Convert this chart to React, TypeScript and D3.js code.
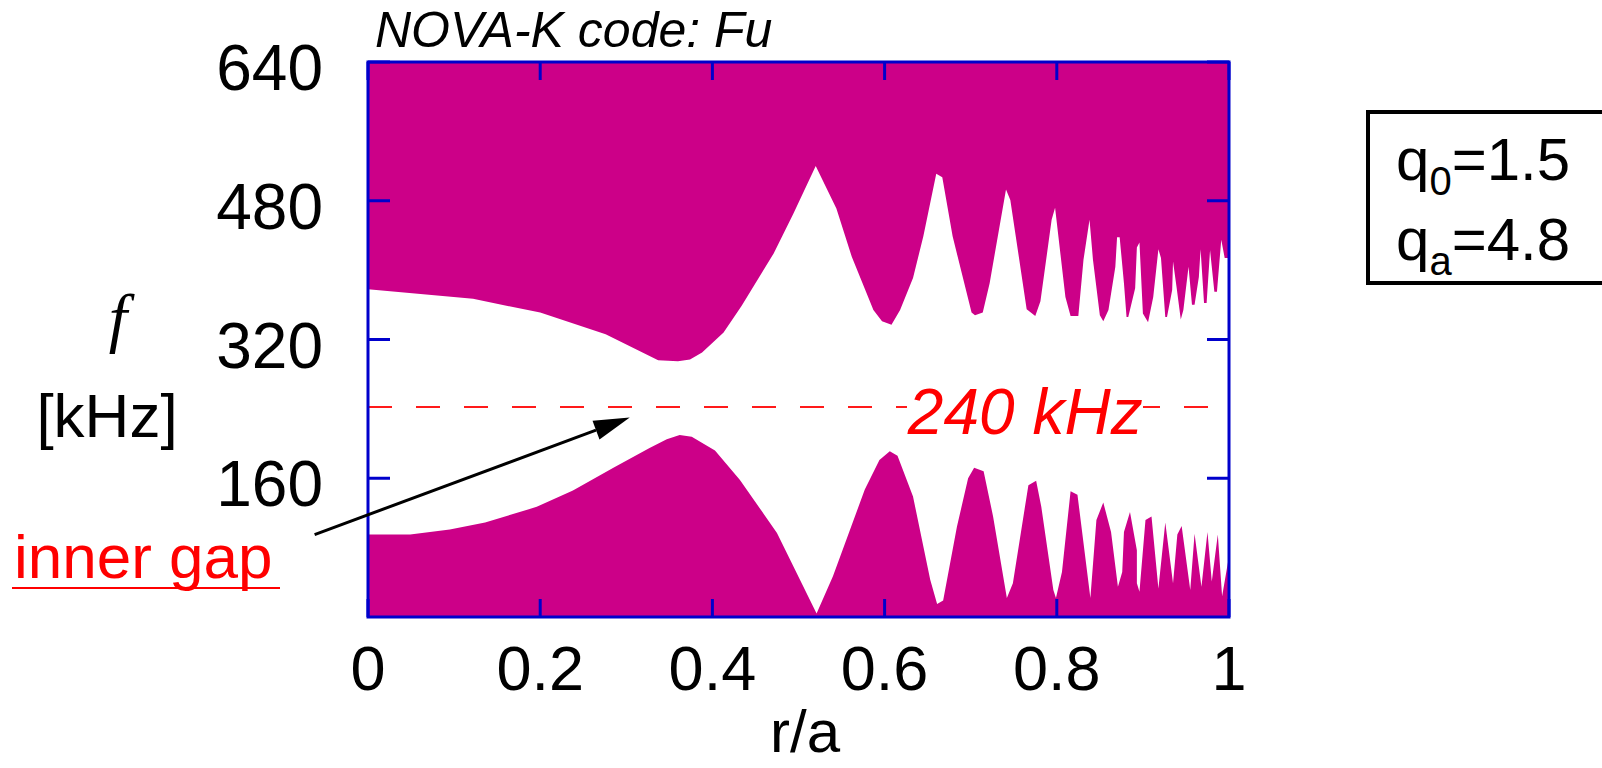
import React from 'react';
import * as d3 from 'd3';

// upper continuum edge (filled above), r/a vs kHz
const upperR = [0, 0.122, 0.2, 0.276, 0.337, 0.36, 0.374, 0.388, 0.413, 0.434, 0.471, 0.494, 0.52, 0.544, 0.562, 0.587, 0.597, 0.608, 0.618, 0.633, 0.645, 0.66, 0.667, 0.679, 0.701, 0.705, 0.714, 0.722, 0.741, 0.746, 0.765, 0.775, 0.781, 0.794, 0.798, 0.81, 0.816, 0.825, 0.831, 0.838, 0.842, 0.85, 0.854, 0.86, 0.868, 0.87, 0.873, 0.878, 0.881, 0.883, 0.891, 0.893, 0.896, 0.9, 0.906, 0.912, 0.918, 0.921, 0.926, 0.928, 0.934, 0.935, 0.939, 0.944, 0.947, 0.953, 0.957, 0.96, 0.965, 0.967, 0.971, 0.974, 0.978, 0.983, 0.986, 0.991, 0.995, 1];
const upperF = [378, 367, 351, 326, 296, 295, 297, 305, 328, 359, 419, 465, 520, 471, 415, 354, 341, 337, 354, 391, 439, 511, 507, 439, 351, 348, 351, 385, 493, 481, 355, 347, 364, 458, 472, 369, 347, 347, 412, 458, 412, 348, 341, 354, 404, 438, 438, 385, 346, 346, 379, 426, 432, 350, 340, 369, 424, 414, 346, 346, 377, 410, 381, 343, 354, 404, 360, 360, 392, 424, 362, 362, 423, 375, 375, 435, 414, 414];

// lower continuum edge (filled below)
const lowerR = [0, 0.049, 0.095, 0.136, 0.196, 0.238, 0.285, 0.327, 0.347, 0.362, 0.376, 0.403, 0.432, 0.475, 0.521, 0.54, 0.577, 0.594, 0.606, 0.615, 0.633, 0.653, 0.661, 0.668, 0.684, 0.697, 0.704, 0.715, 0.726, 0.742, 0.749, 0.767, 0.776, 0.782, 0.796, 0.799, 0.806, 0.816, 0.824, 0.839, 0.846, 0.854, 0.863, 0.871, 0.876, 0.878, 0.885, 0.893, 0.893, 0.896, 0.903, 0.91, 0.918, 0.926, 0.935, 0.94, 0.945, 0.955, 0.96, 0.968, 0.975, 0.98, 0.987, 0.992, 1];
const lowerF = [95, 95, 101, 109, 127, 146, 172, 195, 205, 210, 208, 192, 158, 97, 4, 47, 147, 181, 191, 186, 139, 43, 15, 19, 104, 160, 172, 168, 116, 22, 39, 152, 157, 127, 31, 22, 52, 145, 141, 22, 112, 132, 98, 35, 52, 98, 121, 77, 39, 29, 112, 116, 33, 109, 39, 95, 105, 31, 96, 35, 98, 41, 95, 24, 70];

const xTicks = [0, 0.2, 0.4, 0.6, 0.8, 1];
const xTickLabels = ['0', '0.2', '0.4', '0.6', '0.8', '1'];
const yTicks = [160, 320, 480, 640];
const yTickLabels = ['160', '320', '480', '640'];

const gapFreq = 240;
const arrowFrom = [-0.062, 95];
const arrowTo = [0.304, 230];

const W = 1602;
const H = 768;
const left = 368, right = 1229, top = 62, bottom = 617;
const FILL = '#cc0088';
const AXIS = '#0000cc';
const FONT = '"Liberation Sans", Arial, sans-serif';

export default function App() {
  const x = d3.scaleLinear().domain([0, 1]).range([left, right]);
  const y = d3.scaleLinear().domain([0, 640]).range([bottom, top]);

  const upper = upperR.map((r, i) => [r, upperF[i]]);
  const lower = lowerR.map((r, i) => [r, lowerF[i]]);

  const upperArea = d3.area<number[]>()
    .x(d => x(d[0]))
    .y0(y(640))
    .y1(d => y(d[1]));
  const lowerArea = d3.area<number[]>()
    .x(d => x(d[0]))
    .y0(y(0))
    .y1(d => y(d[1]));

  // arrow geometry
  const ax0 = x(arrowFrom[0]), ay0 = y(arrowFrom[1]);
  const ax1 = x(arrowTo[0]), ay1 = y(arrowTo[1]);
  const ang = Math.atan2(ay1 - ay0, ax1 - ax0);
  const headLen = 36, headW = 10;
  const bx = ax1 - headLen * Math.cos(ang), by = ay1 - headLen * Math.sin(ang);
  const nx = -Math.sin(ang) * headW, ny = Math.cos(ang) * headW;
  const head = `M${ax1},${ay1}L${bx + nx},${by + ny}L${bx - nx},${by - ny}Z`;

  return (
    <svg width={W} height={H} style={{ position: 'absolute', left: 0, top: 0, background: '#fff' }}>
      <text x={375} y={47} fontFamily={FONT} fontStyle="italic" fontSize={50}>NOVA-K code: Fu</text>

      <path d={upperArea(upper) || ''} fill={FILL} />
      <path d={lowerArea(lower) || ''} fill={FILL} />

      {/* 240 kHz line */}
      <line x1={x(0)} x2={x(1)} y1={y(gapFreq) - 2} y2={y(gapFreq) - 2}
        stroke="#ff1a1a" strokeWidth={2} strokeDasharray="24,24" />
      <rect x={x(0.626)} y={y(gapFreq) - 26} width={236} height={52} fill="#fff" />
      <text x={x(0.627)} y={y(gapFreq) + 25} fontFamily={FONT} fontStyle="italic" fontSize={64} fill="#ff0000">240 kHz</text>

      {/* frame + ticks */}
      <rect x={left} y={top} width={right - left} height={bottom - top} fill="none" stroke={AXIS} strokeWidth={3} />
      {yTicks.map(t => (
        <g key={'y' + t} stroke={AXIS} strokeWidth={3}>
          <line x1={left} x2={left + 22} y1={y(t)} y2={y(t)} />
          <line x1={right} x2={right - 22} y1={y(t)} y2={y(t)} />
        </g>
      ))}
      {xTicks.map(t => (
        <g key={'x' + t} stroke={AXIS} strokeWidth={3}>
          <line x1={x(t)} x2={x(t)} y1={top} y2={top + 18} />
          <line x1={x(t)} x2={x(t)} y1={bottom} y2={bottom - 18} />
        </g>
      ))}

      {yTicks.map((t, i) => (
        <text key={'yl' + t} x={323} y={y(t) + 28} textAnchor="end" fontFamily={FONT} fontSize={64}>{yTickLabels[i]}</text>
      ))}
      {xTicks.map((t, i) => (
        <text key={'xl' + t} x={x(t)} y={690} textAnchor="middle" fontFamily={FONT} fontSize={63}>{xTickLabels[i]}</text>
      ))}
      <text x={805} y={752} textAnchor="middle" fontFamily={FONT} fontSize={60}>r/a</text>

      <text x={118} y={340} textAnchor="middle" fontFamily='"Liberation Serif", "Times New Roman", serif' fontStyle="italic" fontSize={66}>f</text>
      <text x={107} y={437} textAnchor="middle" fontFamily={FONT} fontSize={62}>[kHz]</text>

      {/* inner gap annotation */}
      <text x={14} y={578} fontFamily={FONT} fontSize={62} fill="#ff0000">inner gap</text>
      <line x1={12} x2={280} y1={588} y2={588} stroke="#ff0000" strokeWidth={2} />
      <line x1={ax0} y1={ay0} x2={bx} y2={by} stroke="#000" strokeWidth={3} />
      <path d={head} fill="#000" />

      {/* q box */}
      <rect x={1368} y={112} width={260} height={171} fill="#fff" stroke="#000" strokeWidth={4} />
      <text x={1396} y={180} fontFamily={FONT} fontSize={60}>
        q<tspan fontSize={40} dy={15}>0</tspan><tspan dy={-15}>=1.5</tspan>
      </text>
      <text x={1396} y={260} fontFamily={FONT} fontSize={60}>
        q<tspan fontSize={40} dy={15}>a</tspan><tspan dy={-15}>=4.8</tspan>
      </text>
    </svg>
  );
}
